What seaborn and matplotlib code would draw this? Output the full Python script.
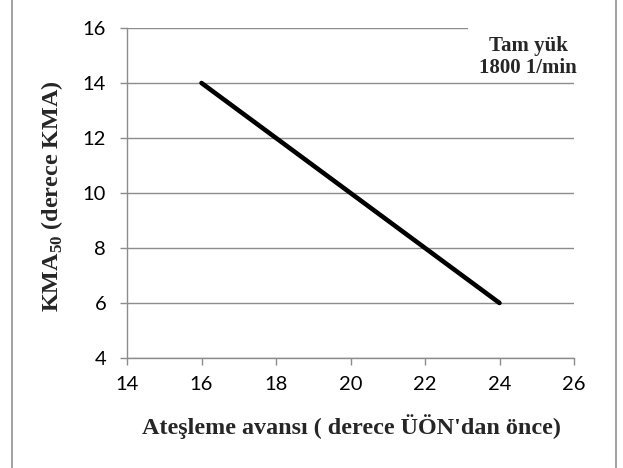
import matplotlib
matplotlib.use("Agg")
import matplotlib.pyplot as plt
import seaborn as sns
import pandas as pd
from matplotlib.lines import Line2D
from matplotlib.patches import Rectangle

x_vals = [16, 24]
y_vals = [14, 6]
x_ticks = [14, 16, 18, 20, 22, 24, 26]
y_ticks = [4, 6, 8, 10, 12, 14, 16]
xlabel = "Ateşleme avansı ( derece ÜÖN'dan önce)"
ylabel = r"KMA$_{\mathregular{50}}$ (derece KMA)"
note = "Tam yük\n1800 1/min"

sns.set_theme(style="white")
plt.rcParams['font.family'] = ['Lato', 'DejaVu Sans']
plt.rcParams['mathtext.fontset'] = 'custom'
plt.rcParams['mathtext.rm'] = 'Liberation Serif:bold'

W, H = 623, 468
fig = plt.figure(figsize=(6.23, 4.68), dpi=100)
ax = fig.add_axes([127/W, 1-358/H, (574-127)/W, (358-28)/H])

df = pd.DataFrame({"x": x_vals, "y": y_vals})
sns.lineplot(data=df, x="x", y="y", ax=ax, color="black", linewidth=3.3)

ax.set_xlim(14, 26)
ax.set_ylim(4, 16)
ax.set_xticks(x_ticks)
ax.set_yticks(y_ticks)
ax.tick_params(axis="both", labelsize=14.5, direction="out", length=5, width=1,
               color="#8c8c8c", left=True, bottom=True)
ax.tick_params(axis="x", pad=8)
ax.tick_params(axis="y", pad=10)
for lab in ax.get_xticklabels() + ax.get_yticklabels():
    lab.set_color("black")
ax.yaxis.grid(True, color="#8c8c8c", linewidth=1)
ax.xaxis.grid(False)
for s in ["top", "right"]:
    ax.spines[s].set_visible(False)
for s in ["left", "bottom"]:
    ax.spines[s].set_color("#8c8c8c")
    ax.spines[s].set_linewidth(1)

ax.set_xlabel(xlabel, fontsize=17.4, fontweight="bold", family="Liberation Serif", labelpad=8)
ax.set_ylabel(ylabel, fontsize=17.4, fontweight="bold", family="Liberation Serif", labelpad=8)
ax.xaxis.set_label_coords(351/W, 1-427/H, transform=fig.transFigure)
ax.yaxis.set_label_coords(52/W, 1-196/H, transform=fig.transFigure)
ax.xaxis.label.set_va("center")
ax.yaxis.label.set_va("center")

fig.add_artist(Rectangle((468/W, 1-79/H), (600-468)/W, (79-20)/H, transform=fig.transFigure,
                         facecolor="white", edgecolor="none", zorder=5))
fig.text(528/W, 1-57/H, note, ha="center", va="center", fontsize=15,
         fontweight="bold", family="Liberation Serif", linespacing=1.1, zorder=6)

fig.add_artist(Line2D([12/W, 12/W], [0, 1], color="#9a9a9a", linewidth=1.3, transform=fig.transFigure))
fig.add_artist(Line2D([616/W, 616/W], [0, 1], color="#9a9a9a", linewidth=1.3, transform=fig.transFigure))

fig.savefig("out.png", dpi=100)
